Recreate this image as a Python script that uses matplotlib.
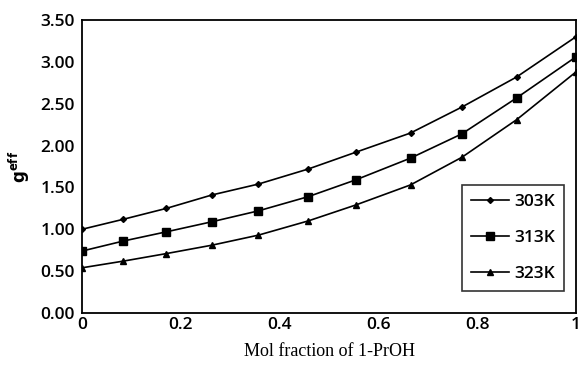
import matplotlib.pyplot as plt
from matplotlib.ticker import FormatStrFormatter

# data
x = [0, 0.084, 0.171, 0.263, 0.357, 0.458, 0.554, 0.665, 0.769, 0.880, 1.0]
g_303 = [1.00, 1.12, 1.25, 1.41, 1.54, 1.72, 1.92, 2.15, 2.46, 2.82, 3.30]
g_313 = [0.74, 0.86, 0.97, 1.09, 1.22, 1.39, 1.59, 1.85, 2.14, 2.57, 3.06]
g_323 = [0.54, 0.62, 0.71, 0.81, 0.93, 1.10, 1.29, 1.53, 1.86, 2.31, 2.88]
labels = ['303K', '313K', '323K']
xticks = [0, 0.2, 0.4, 0.6, 0.8, 1]
xticklabels = ['0', '0.2', '0.4', '0.6', '0.8', '1']

plt.rcParams['font.family'] = ['Open Sans', 'DejaVu Sans']

fig = plt.figure(figsize=(5.83, 3.67), dpi=100)
ax = fig.add_axes([82 / 583, 1 - 313 / 367, 494 / 583, 293 / 367])

ax.plot(x, g_303, color='black', lw=1.2, marker='D', ms=3, label=labels[0])
ax.plot(x, g_313, color='black', lw=1.2, marker='s', ms=5.5, label=labels[1])
ax.plot(x, g_323, color='black', lw=1.2, marker='^', ms=5, label=labels[2])

ax.set_xlim(0, 1)
ax.set_ylim(0, 3.5)
ax.set_xticks(xticks)
ax.set_xticklabels(xticklabels)
ax.set_yticks([0, 0.5, 1.0, 1.5, 2.0, 2.5, 3.0, 3.5])
ax.yaxis.set_major_formatter(FormatStrFormatter('%.2f'))
ax.tick_params(length=0, labelsize=12.5, pad=5)
ax.tick_params(axis='x', pad=3)
for lab in ax.get_xticklabels() + ax.get_yticklabels():
    lab.set_fontweight('semibold')
for s in ax.spines.values():
    s.set_linewidth(1.3)

ax.set_ylabel(r'$\mathbf{g^{eff}}$', fontsize=12, labelpad=6)
ax.set_xlabel('Mol fraction of 1-PrOH', family='Liberation Serif', fontsize=13, labelpad=7)

leg = ax.legend(loc='lower right', bbox_to_anchor=((564 - 82) / 494, 0.075), frameon=True,
                fancybox=False, edgecolor='black', fontsize=12.5, handlelength=2.2,
                labelspacing=1.15, borderpad=0.5, handletextpad=0.3, borderaxespad=0)
leg.get_frame().set_linewidth(1.2)
for t in leg.get_texts():
    t.set_fontweight('semibold')

plt.savefig('out.png', dpi=100)
